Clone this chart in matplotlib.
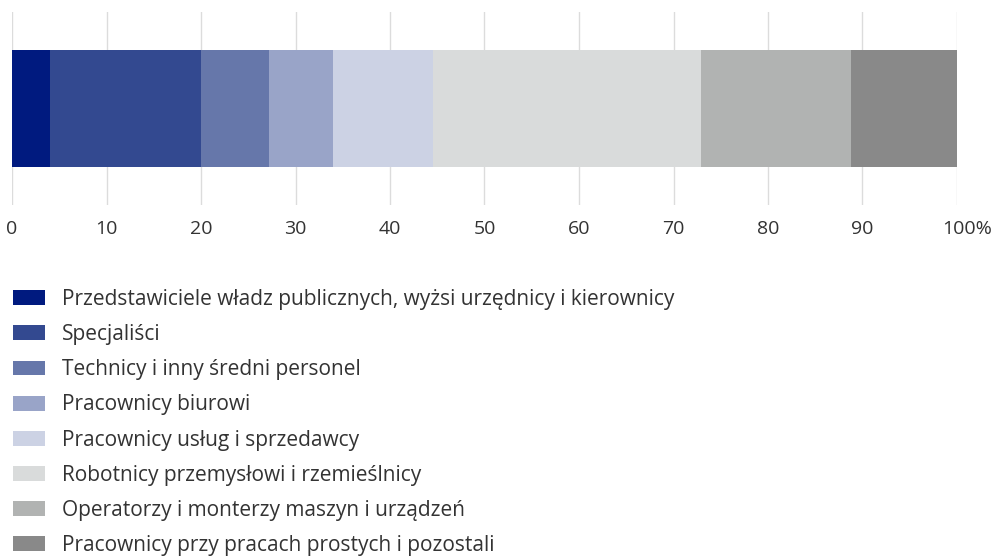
import matplotlib.pyplot as plt
import matplotlib.transforms as mtransforms

plt.rcParams["font.family"] = ["Open Sans", "DejaVu Sans"]

# Struktura pracujących wg grup zawodów (%)
categories = [
    "Przedstawiciele władz publicznych, wyżsi urzędnicy i kierownicy",
    "Specjaliści",
    "Technicy i inny średni personel",
    "Pracownicy biurowi",
    "Pracownicy usług i sprzedawcy",
    "Robotnicy przemysłowi i rzemieślnicy",
    "Operatorzy i monterzy maszyn i urządzeń",
    "Pracownicy przy pracach prostych i pozostali",
]
shares = [4.0, 16.0, 7.2, 6.8, 10.5, 28.4, 15.9, 11.2]
colors = ["#001a7f", "#334990", "#6677aa", "#99a4c8", "#ccd2e4",
          "#d9dbdb", "#b1b3b2", "#898989"]
tick_values = [0, 10, 20, 30, 40, 50, 60, 70, 80, 90, 100]
tick_labels = ["0", "10", "20", "30", "40", "50", "60", "70", "80", "90", "100%"]

fig = plt.figure(figsize=(9.95, 5.58), dpi=100)
ax = fig.add_axes([12 / 995, 1 - 205 / 558, 945 / 995, 193 / 558])

left = 0.0
for name, val, col in zip(categories, shares, colors):
    ax.barh(0, val, left=left, height=0.61, color=col, label=name, zorder=2)
    left += val

ax.set_xlim(0, 100)
ax.set_ylim(-0.5, 0.5)
ax.set_yticks([])
ax.set_xticks(tick_values)
ax.set_xticklabels(tick_labels)
ax.tick_params(axis="x", length=0, pad=11, labelsize=14, labelcolor="#333333")
ax.grid(axis="x", color="#dcdcdc", linewidth=1, zorder=0)
ax.set_axisbelow(True)
for s in ax.spines.values():
    s.set_visible(False)

# "%" wystaje poza oś - przesuwamy ostatnią etykietę w prawo
last = ax.get_xticklabels()[-1]
last.set_transform(last.get_transform()
                   + mtransforms.ScaledTranslation(10 / 100, 0, fig.dpi_scale_trans))

handles, labels = ax.get_legend_handles_labels()
fig.legend(
    handles, labels,
    loc="upper left",
    bbox_to_anchor=(13 / 995, 1 - 289 / 558),
    frameon=False,
    fontsize=15,
    labelcolor="#333333",
    handlelength=1.54,
    handleheight=0.72,
    handletextpad=0.82,
    labelspacing=0.68,
    borderpad=0,
    borderaxespad=0,
)

fig.savefig("out.png", dpi=100, facecolor="white")
